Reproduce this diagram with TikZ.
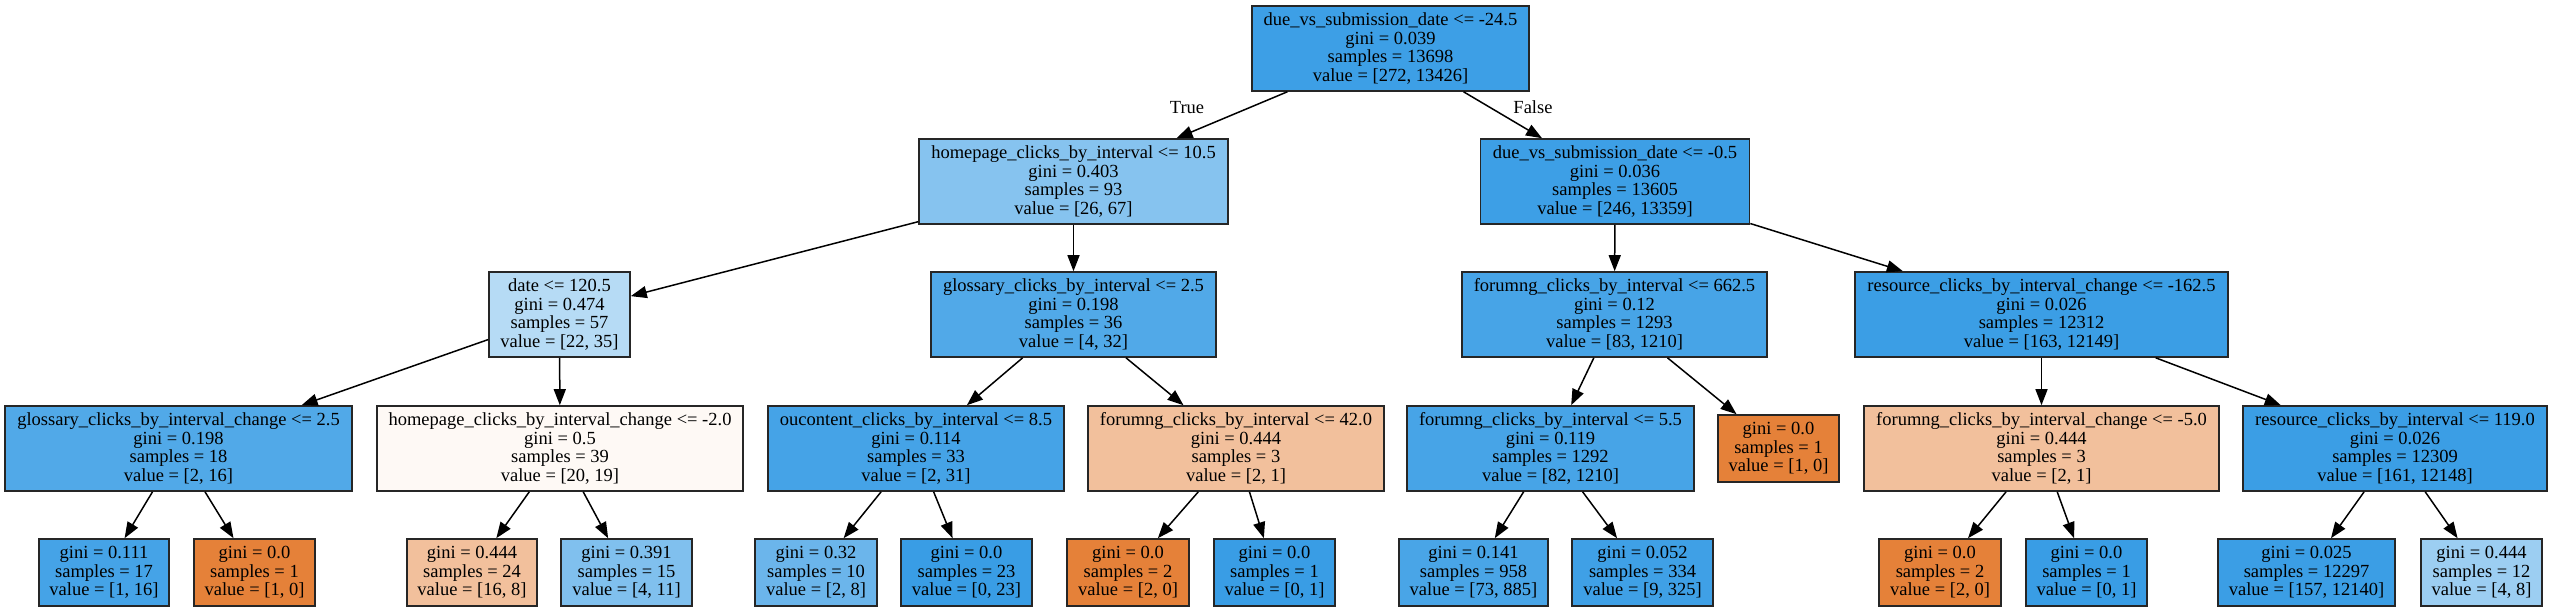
\documentclass[tikz,border=0pt]{standalone}
\usepackage{fontspec}
\setmainfont{Liberation Serif}
\usetikzlibrary{arrows.meta}
\definecolor{cB}{RGB}{57,157,229}
\definecolor{cO}{RGB}{229,129,57}
\begin{document}
\begin{tikzpicture}[x=1pt,y=-1pt,
  tn/.style={draw=black!85, line width=1.6pt, rectangle, align=center, inner sep=0pt,
    minimum height=85pt, font=\fontsize{18.5pt}{18.6pt}\selectfont},
  lf/.style={tn, minimum height=67pt},
  ed/.style={line width=1.5pt, draw=black, -{Triangle[length=16pt,width=12pt]}},
  lab/.style={font=\fontsize{18.5pt}{18.6pt}\selectfont, inner sep=0pt}]
\useasboundingbox (0,0) rectangle (2552,611);
% level 0
\node[tn, minimum width=277pt, fill=cB!98] (root) at (1390.5,48.5) {due\_vs\_submission\_date <= -24.5\\gini = 0.039\\samples = 13698\\value = [272, 13426]};
% level 1
\node[tn, minimum width=309pt, fill=cB!61] (home) at (1073.5,181.5) {homepage\_clicks\_by\_interval <= 10.5\\gini = 0.403\\samples = 93\\value = [26, 67]};
\node[tn, minimum width=269pt, fill=cB!98] (due2) at (1615,181.5) {due\_vs\_submission\_date <= -0.5\\gini = 0.036\\samples = 13605\\value = [246, 13359]};
% level 2
\node[tn, minimum width=141pt, fill=cB!37] (date) at (559.5,314.5) {date <= 120.5\\gini = 0.474\\samples = 57\\value = [22, 35]};
\node[tn, minimum width=285pt, fill=cB!88] (gloss) at (1073.5,314.5) {glossary\_clicks\_by\_interval <= 2.5\\gini = 0.198\\samples = 36\\value = [4, 32]};
\node[tn, minimum width=305pt, fill=cB!93] (fo662) at (1614.5,314.5) {forumng\_clicks\_by\_interval <= 662.5\\gini = 0.12\\samples = 1293\\value = [83, 1210]};
\node[tn, minimum width=373pt, fill=cB!99] (reschg) at (2041.5,314.5) {resource\_clicks\_by\_interval\_change <= -162.5\\gini = 0.026\\samples = 12312\\value = [163, 12149]};
% level 3
\node[tn, minimum width=347pt, fill=cB!88] (glchg) at (178.5,448.5) {glossary\_clicks\_by\_interval\_change <= 2.5\\gini = 0.198\\samples = 18\\value = [2, 16]};
\node[tn, minimum width=366pt, fill=cO!5] (hpchg) at (560,448.5) {homepage\_clicks\_by\_interval\_change <= -2.0\\gini = 0.5\\samples = 39\\value = [20, 19]};
\node[tn, minimum width=296pt, fill=cB!94] (ouc) at (916,448.5) {oucontent\_clicks\_by\_interval <= 8.5\\gini = 0.114\\samples = 33\\value = [2, 31]};
\node[tn, minimum width=296pt, fill=cO!50] (fo42) at (1236,448.5) {forumng\_clicks\_by\_interval <= 42.0\\gini = 0.444\\samples = 3\\value = [2, 1]};
\node[tn, minimum width=287pt, fill=cB!93] (fo55) at (1550.5,448.5) {forumng\_clicks\_by\_interval <= 5.5\\gini = 0.119\\samples = 1292\\value = [82, 1210]};
\node[lf, minimum width=121pt, fill=cO] (lfa) at (1778.5,448.5) {gini = 0.0\\samples = 1\\value = [1, 0]};
\node[tn, minimum width=355pt, fill=cO!50] (fochg) at (2041.5,448.5) {forumng\_clicks\_by\_interval\_change <= -5.0\\gini = 0.444\\samples = 3\\value = [2, 1]};
\node[tn, minimum width=304pt, fill=cB!99] (res119) at (2395,448.5) {resource\_clicks\_by\_interval <= 119.0\\gini = 0.026\\samples = 12309\\value = [161, 12148]};
% level 4
\node[lf, minimum width=130pt, fill=cB!94] (l1) at (104,572.5) {gini = 0.111\\samples = 17\\value = [1, 16]};
\node[lf, minimum width=121pt, fill=cO] (l2) at (254.5,572.5) {gini = 0.0\\samples = 1\\value = [1, 0]};
\node[lf, minimum width=130pt, fill=cO!50] (l3) at (472,572.5) {gini = 0.444\\samples = 24\\value = [16, 8]};
\node[lf, minimum width=131pt, fill=cB!64] (l4) at (626.5,572.5) {gini = 0.391\\samples = 15\\value = [4, 11]};
\node[lf, minimum width=122pt, fill=cB!75] (l5) at (816,572.5) {gini = 0.32\\samples = 10\\value = [2, 8]};
\node[lf, minimum width=131pt, fill=cB] (l6) at (966.5,572.5) {gini = 0.0\\samples = 23\\value = [0, 23]};
\node[lf, minimum width=122pt, fill=cO] (l7) at (1128,572.5) {gini = 0.0\\samples = 2\\value = [2, 0]};
\node[lf, minimum width=121pt, fill=cB] (l8) at (1274.5,572.5) {gini = 0.0\\samples = 1\\value = [0, 1]};
\node[lf, minimum width=149pt, fill=cB!92] (l9) at (1473.5,572.5) {gini = 0.141\\samples = 958\\value = [73, 885]};
\node[lf, minimum width=141pt, fill=cB!97] (l10) at (1642.5,572.5) {gini = 0.052\\samples = 334\\value = [9, 325]};
\node[lf, minimum width=122pt, fill=cO] (l11) at (1940,572.5) {gini = 0.0\\samples = 2\\value = [2, 0]};
\node[lf, minimum width=121pt, fill=cB] (l12) at (2086.5,572.5) {gini = 0.0\\samples = 1\\value = [0, 1]};
\node[lf, minimum width=177pt, fill=cB!99] (l13) at (2306.5,572.5) {gini = 0.025\\samples = 12297\\value = [157, 12140]};
\node[lf, minimum width=121pt, fill=cB!50] (l14) at (2481.5,572.5) {gini = 0.444\\samples = 12\\value = [4, 8]};
% labels
\node[lab] (ltrue) at (1187,108) {True};
\node[lab] (lfalse) at (1533,107) {False};
% edges
\draw[ed] (root) -- (home);
\draw[ed] (root) -- (due2);
\draw[ed] (home) -- (date);
\draw[ed] (home) -- (gloss);
\draw[ed] (due2) -- (fo662);
\draw[ed] (due2) -- (reschg);
\draw[ed] (date) -- (glchg);
\draw[ed] (date) -- (hpchg);
\draw[ed] (gloss) -- (ouc);
\draw[ed] (gloss) -- (fo42);
\draw[ed] (fo662) -- (fo55);
\draw[ed] (fo662) -- (lfa);
\draw[ed] (reschg) -- (fochg);
\draw[ed] (reschg) -- (res119);
\draw[ed] (glchg) -- (l1);
\draw[ed] (glchg) -- (l2);
\draw[ed] (hpchg) -- (l3);
\draw[ed] (hpchg) -- (l4);
\draw[ed] (ouc) -- (l5);
\draw[ed] (ouc) -- (l6);
\draw[ed] (fo42) -- (l7);
\draw[ed] (fo42) -- (l8);
\draw[ed] (fo55) -- (l9);
\draw[ed] (fo55) -- (l10);
\draw[ed] (fochg) -- (l11);
\draw[ed] (fochg) -- (l12);
\draw[ed] (res119) -- (l13);
\draw[ed] (res119) -- (l14);
\end{tikzpicture}
\end{document}
